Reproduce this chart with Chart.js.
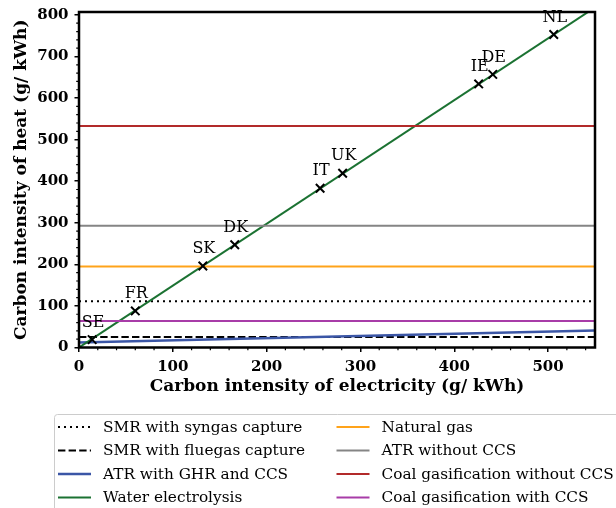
<!DOCTYPE html>
<html>
<head>
<meta charset="utf-8">
<script src="https://cdn.jsdelivr.net/npm/chart.js@4.4.1/dist/chart.umd.min.js"></script>
<style>
  html, body { margin: 0; padding: 0; background: #fff; }
  canvas { display: block; }
</style>
</head>
<body>
<canvas id="chart" width="616" height="508"></canvas>
<script>
// axis ranges (g/kWh) and tick labels
const xRange = [0, 550];
const yRange = [0, 807];
const xTicks = [0, 100, 200, 300, 400, 500];
const yTicks = [0, 100, 200, 300, 400, 500, 600, 700, 800];
const majorStep = 100;
const minorStep = 20;

// country markers on the electrolysis line
const countries = ['SE', 'FR', 'SK', 'DK', 'IT', 'UK', 'IE', 'DE', 'NL'];
const countryElec = [14, 60, 132, 166, 257, 281, 426, 441, 506];
const countryHeat = [19, 88, 196, 247, 383, 419, 634, 657, 753];

// lines: heat intensity at x = 0 and x = 550
const electrolysisEnds = [0, 818];
const atrGhrEnds = [12, 41];
// flat references
const smrSyngas = 111;
const smrFluegas = 25;
const naturalGas = 195;
const atrNoCcs = 293;
const coalNoCcs = 533;
const coalCcs = 64;

const SERIF = "'DejaVu Serif', serif";

const flat = v => [{x: xRange[0], y: v}, {x: xRange[1], y: v}];
const ends = e => [{x: xRange[0], y: e[0]}, {x: xRange[1], y: e[1]}];

function lineSet(label, data, color, dash, width, col, row, order) {
  return {
    label, data, showLine: true, pointRadius: 0, borderColor: color, backgroundColor: color,
    borderWidth: width, borderDash: dash, borderCapStyle: 'butt', tension: 0,
    legendCol: col, legendRow: row, order
  };
}

const datasets = [
  lineSet('SMR with syngas capture', flat(smrSyngas), '#000000', [2, 4], 2, 0, 0, 9),
  lineSet('SMR with fluegas capture', flat(smrFluegas), '#000000', [7.4, 3.2], 2, 0, 1, 8),
  lineSet('ATR with GHR and CCS', ends(atrGhrEnds), '#3b56a6', [], 2.5, 0, 2, 7),
  lineSet('Water electrolysis', ends(electrolysisEnds), '#1b7232', [], 2, 0, 3, 6),
  lineSet('Natural gas', flat(naturalGas), '#ffa31a', [], 2, 1, 0, 5),
  lineSet('ATR without CCS', flat(atrNoCcs), '#858585', [], 2, 1, 1, 4),
  lineSet('Coal gasification without CCS', flat(coalNoCcs), '#b22a2a', [], 2, 1, 2, 3),
  lineSet('Coal gasification with CCS', flat(coalCcs), '#a83ca8', [], 2, 1, 3, 2),
  {
    label: 'countries',
    data: countryElec.map((x, i) => ({x, y: countryHeat[i]})),
    showLine: false, pointStyle: 'crossRot', pointRadius: 6, pointBorderWidth: 2,
    pointBorderColor: '#000', borderColor: '#000', order: 0
  }
];

const extras = {
  id: 'extras',
  afterDatasetsDraw(chart) {
    const {ctx, chartArea: a, scales: {x, y}} = chart;
    ctx.save();
    // country labels
    ctx.fillStyle = '#000';
    ctx.font = '16px ' + SERIF;
    ctx.textAlign = 'center';
    ctx.textBaseline = 'middle';
    countries.forEach((c, i) => {
      ctx.fillText(c, x.getPixelForValue(countryElec[i]) + 1, y.getPixelForValue(countryHeat[i]) - 17);
    });
    // minor ticks
    ctx.strokeStyle = '#000';
    ctx.lineWidth = 1.2;
    ctx.beginPath();
    for (let v = xRange[0]; v <= xRange[1]; v += minorStep) {
      if (v % majorStep === 0) continue;
      const px = x.getPixelForValue(v);
      ctx.moveTo(px, a.bottom); ctx.lineTo(px, a.bottom + 2.8);
    }
    for (let v = yRange[0]; v <= yRange[1]; v += minorStep) {
      if (v % majorStep === 0) continue;
      const py = y.getPixelForValue(v);
      ctx.moveTo(a.left, py); ctx.lineTo(a.left - 2.8, py);
    }
    ctx.stroke();
    // frame
    ctx.lineWidth = 2.5;
    ctx.strokeRect(a.left, a.top, a.right - a.left, a.bottom - a.top);
    ctx.restore();
  },
  afterDraw(chart) {
    const {ctx} = chart;
    ctx.save();
    // legend frame
    ctx.fillStyle = 'rgba(255,255,255,0.8)';
    ctx.strokeStyle = '#cccccc';
    ctx.lineWidth = 1;
    ctx.beginPath();
    ctx.roundRect(54.5, 414.5, 600, 130, 3);
    ctx.fill();
    ctx.stroke();
    const colX = [58, 336.5];
    const rowY = [427, 450.5, 474, 497.5];
    ctx.font = '15.3px ' + SERIF;
    ctx.textBaseline = 'middle';
    ctx.textAlign = 'left';
    chart.data.datasets.forEach(ds => {
      if (ds.legendCol === undefined) return;
      const lx = colX[ds.legendCol];
      const ly = rowY[ds.legendRow];
      ctx.strokeStyle = ds.borderColor;
      ctx.lineWidth = ds.borderWidth;
      ctx.setLineDash(ds.borderDash);
      ctx.lineCap = 'butt';
      ctx.beginPath();
      ctx.moveTo(lx, ly); ctx.lineTo(lx + 33, ly);
      ctx.stroke();
      ctx.setLineDash([]);
      ctx.fillStyle = '#000';
      ctx.fillText(ds.label, lx + 45, ly + 1);
    });
    ctx.restore();
  }
};

const tickFont = { family: SERIF, size: 15, weight: 'bold' };
const titleFont = { family: SERIF, size: 17, weight: 'bold' };
const tickGrid = { drawOnChartArea: false, drawTicks: true, tickLength: 4.5, color: '#000', lineWidth: 1.5 };

new Chart(document.getElementById('chart'), {
  type: 'scatter',
  data: { datasets },
  plugins: [extras],
  options: {
    responsive: false,
    animation: false,
    devicePixelRatio: 1,
    layout: { padding: { top: 12, right: 21, bottom: 108.5, left: 0 } },
    plugins: { legend: { display: false }, tooltip: { enabled: false } },
    scales: {
      x: {
        type: 'linear',
        min: xRange[0], max: xRange[1],
        afterBuildTicks: s => { s.ticks = xTicks.map(value => ({ value })); },
        afterFit: s => { s.height = 52; s.paddingLeft = 0; s.paddingRight = 0; },
        border: { display: false },
        grid: tickGrid,
        ticks: { maxRotation: 0, padding: 6, color: '#000', font: tickFont },
        title: {
          display: true, text: 'Carbon intensity of electricity (g/ kWh)', color: '#000',
          font: titleFont, padding: { top: 0, bottom: 2.3 }
        }
      },
      y: {
        type: 'linear',
        min: yRange[0], max: yRange[1],
        afterBuildTicks: s => { s.ticks = yTicks.map(value => ({ value })); },
        afterFit: s => { s.width = 79; s.paddingTop = 0; s.paddingBottom = 0; },
        border: { display: false },
        grid: tickGrid,
        ticks: { padding: 6, color: '#000', font: tickFont },
        title: {
          display: true, text: 'Carbon intensity of heat (g/ kWh)', color: '#000',
          font: titleFont, padding: { top: 11.5, bottom: 0 }
        }
      }
    }
  }
});
</script>
</body>
</html>
